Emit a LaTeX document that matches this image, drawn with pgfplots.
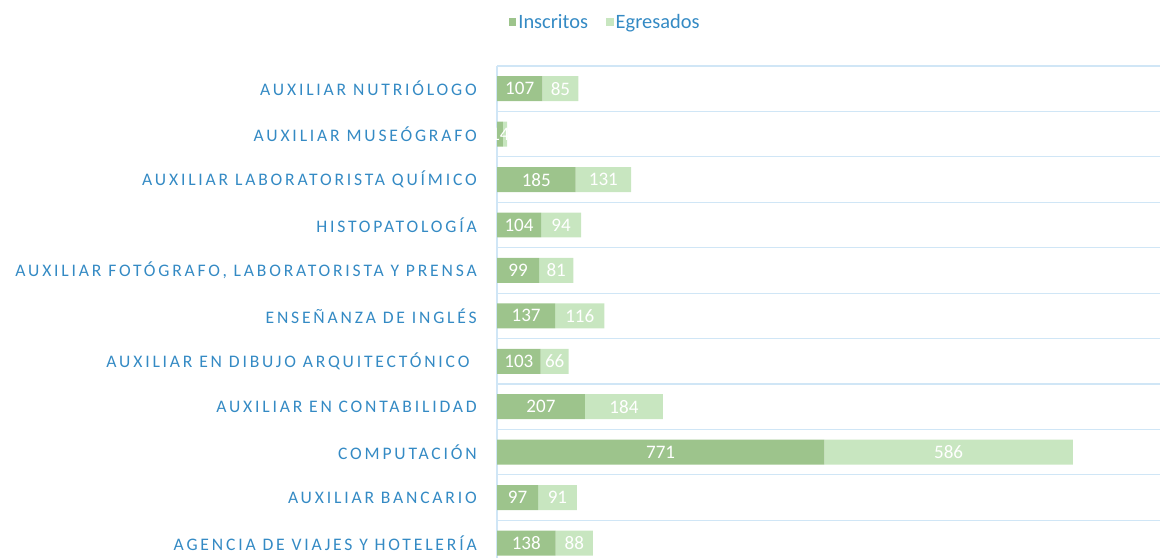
\documentclass[border=0pt]{standalone}
\usepackage{fontspec}
\setmainfont{Carlito}
\newfontfamily\spaced[LetterSpace=16]{Carlito}
\usepackage{pgfplots}
\pgfplotsset{compat=1.18}
\definecolor{insc}{RGB}{157,196,140}
\definecolor{egre}{RGB}{200,230,192}
\definecolor{txtblue}{RGB}{52,138,196}
\definecolor{gridc}{RGB}{208,230,246}
\begin{document}
\begin{tikzpicture}
\begin{axis}[
  at={(372.75pt,0pt)}, anchor=south west,
  width=497.25pt, height=369pt, scale only axis,
  xbar stacked, bar width=0.55,
  xmin=0, xmax=1562, ymin=-0.33, ymax=10.5,
  axis y line*=left, axis x line*=bottom,
  x axis line style={draw=none},
  y axis line style={gridc, line width=0.9pt},
  xtick=\empty,
  ytick={0,...,10},
  yticklabels={AGENCIA DE VIAJES Y HOTELERÍA, AUXILIAR BANCARIO, COMPUTACIÓN, AUXILIAR EN CONTABILIDAD, AUXILIAR EN DIBUJO ARQUITECTÓNICO\kern5.5pt\null, ENSEÑANZA DE INGLÉS, {AUXILIAR FOTÓGRAFO, LABORATORISTA Y PRENSA}, HISTOPATOLOGÍA, AUXILIAR LABORATORISTA QUÍMICO, AUXILIAR MUSEÓGRAFO, AUXILIAR NUTRIÓLOGO},
  major tick length=0pt, minor tick length=0pt,
  minor ytick={0.5,1.5,...,10.5},
  yminorgrids, minor grid style={gridc, line width=0.9pt},
  yticklabel style={font=\spaced\fontsize{13.2}{15}\selectfont, text=txtblue, inner sep=0pt, anchor=east, xshift=-15pt},
  legend style={at={(axis description cs:0.163,1.089)}, anchor=center, draw=none, fill=none,
    legend columns=2, font=\fontsize{15.3}{17}\selectfont, text=txtblue,
    nodes={inner sep=1.5pt},
    /tikz/every even column/.append style={column sep=12pt}},
  legend image code/.code={\fill[#1] (0pt,-2.9pt) rectangle (5.8pt,2.9pt);},
  clip=false,
]
\addplot[fill=insc, draw=none] coordinates {
 (138,0) (97,1) (771,2) (207,3) (103,4) (137,5) (99,6) (104,7) (185,8) (14,9) (107,10)};
\addlegendentry{Inscritos}
\addplot[fill=egre, draw=none] coordinates {
 (88,0) (91,1) (586,2) (184,3) (66,4) (116,5) (81,6) (94,7) (131,8) (10,9) (85,10)};
\addlegendentry{Egresados}
\end{axis}
\begin{axis}[
  at={(372.75pt,0pt)}, anchor=south west,
  width=497.25pt, height=369pt, scale only axis,
  xmin=0, xmax=1562, ymin=-0.33, ymax=10.5,
  hide axis, clip=false,
]
\addplot[only marks, mark=none, nodes near coords, point meta=explicit symbolic,
  nodes near coords style={text=white, anchor=center, inner sep=0pt, font=\fontsize{14.3}{16}\selectfont}]
 coordinates {
 (69,0)[138] (48.5,1)[97] (385.5,2)[771] (103.5,3)[207] (51.5,4)[103] (68.5,5)[137]
 (49.5,6)[99] (52,7)[104] (92.5,8)[185] (7,9)[14] (53.5,10)[107]
 (182,0)[88] (142.5,1)[91] (1064,2)[586] (299,3)[184] (136,4)[66] (195,5)[116]
 (139.5,6)[81] (151,7)[94] (250.5,8)[131] (149.5,10)[85]};
\end{axis}
\pgfresetboundingbox
\path (0,0) rectangle (870pt,418.5pt);
\end{tikzpicture}
\end{document}
